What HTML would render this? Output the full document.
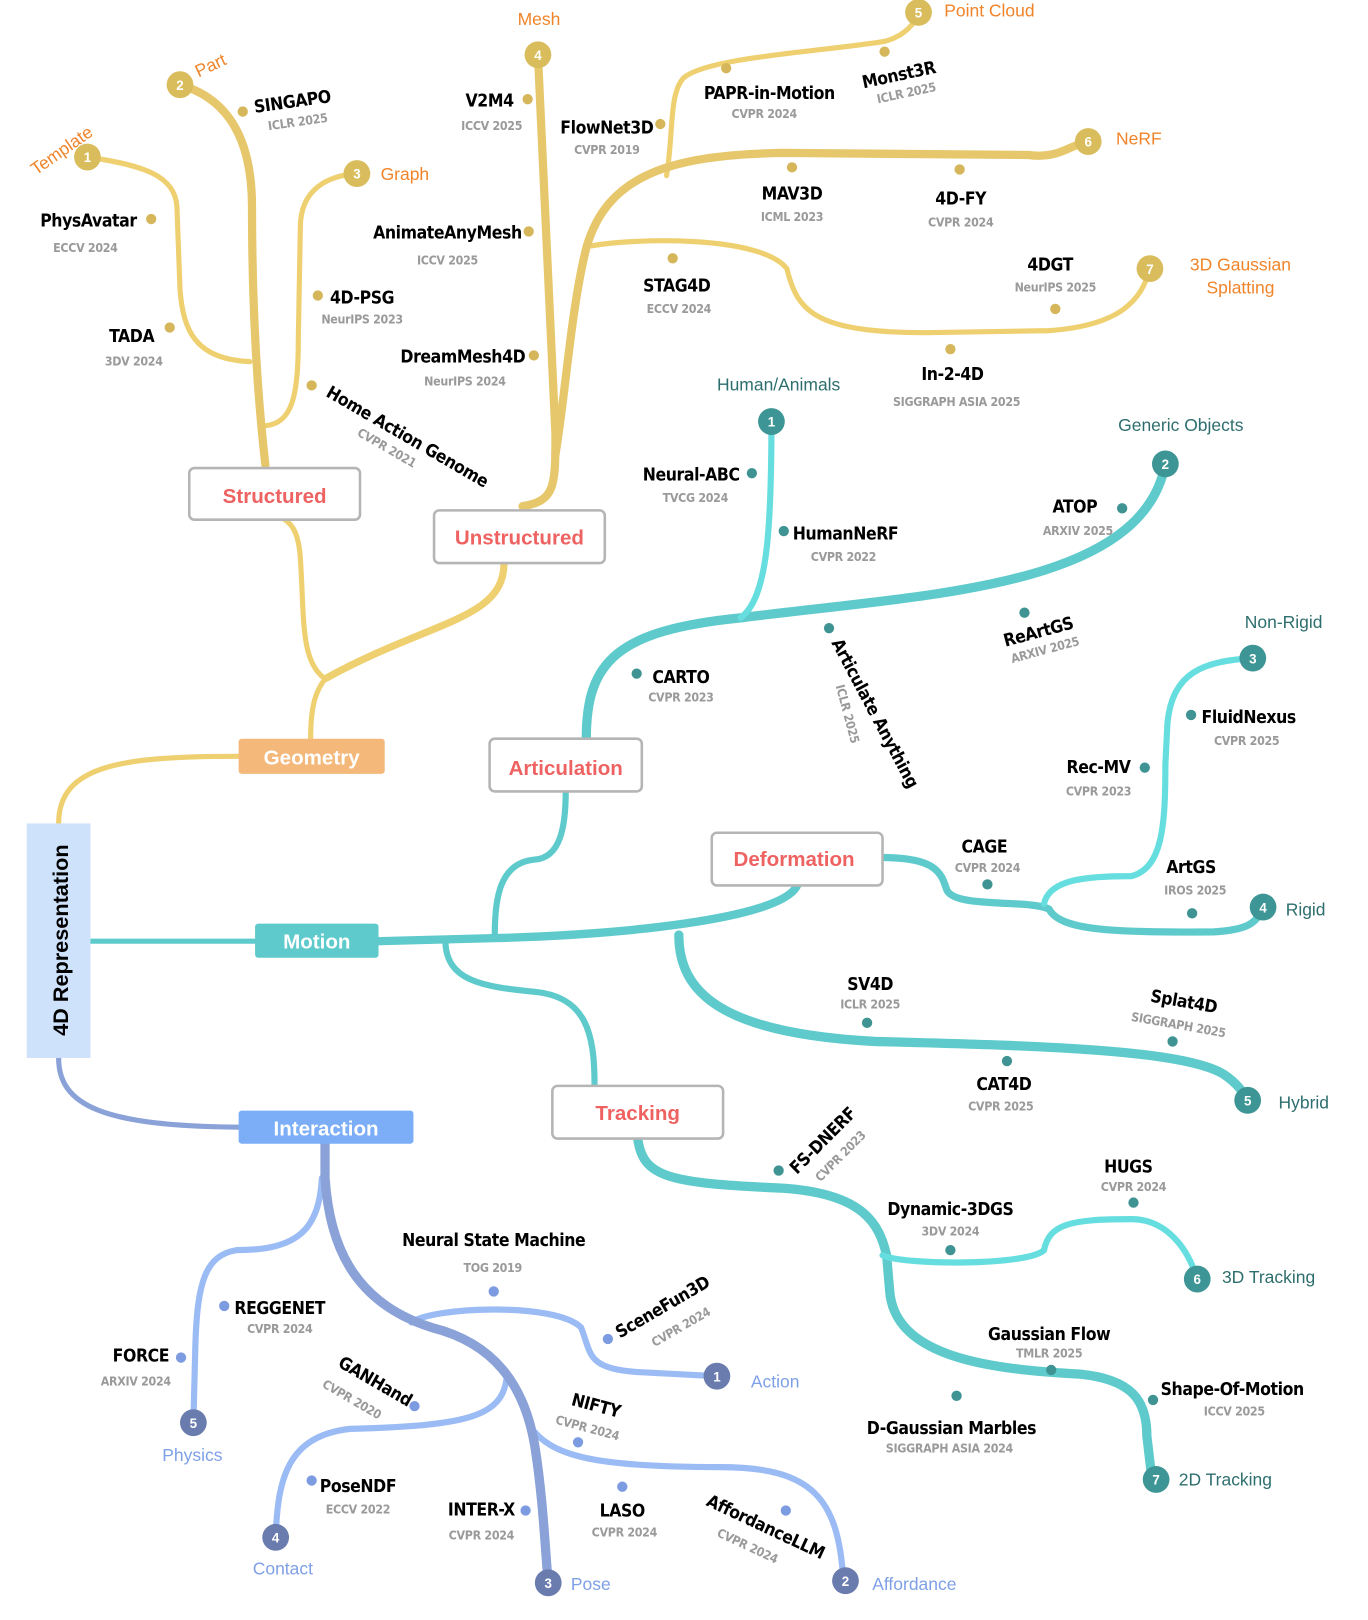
<!DOCTYPE html>
<html><head><meta charset="utf-8"><style>
html,body{margin:0;padding:0;background:#fff}
svg{display:block}
.t{font-family:"DejaVu Sans Condensed","Liberation Sans",sans-serif;font-weight:bold;font-size:17px;letter-spacing:-0.4px;fill:#000;text-anchor:middle}
.v{font-family:"DejaVu Sans Condensed","Liberation Sans",sans-serif;font-weight:bold;font-size:12px;letter-spacing:-0.3px;fill:#9a9a9a;text-anchor:middle}
.c{font-family:"Liberation Sans",sans-serif;font-size:17px}
.bn{font-family:"Liberation Sans",sans-serif;font-weight:bold;font-size:13px;fill:#fff;text-anchor:middle}
.box{font-family:"Liberation Sans",sans-serif;font-weight:bold;font-size:20px;text-anchor:middle}
path{fill:none;stroke-linecap:round}
</style></head><body>
<svg width="1368" height="1620" viewBox="0 0 1330 1568" preserveAspectRatio="none" xmlns="http://www.w3.org/2000/svg">
<g stroke="#EFD070" stroke-width="5">
<path d="M57,797 C57,740 120,732 232,732"/>
<path d="M302,715 C302,680 308,668 316,657 C292,640 296,600 292,540 C290,512 282,505 272,500"/>
<path d="M490,545 C490,600 420,600 316,657" stroke-width="7"/>
<path d="M243,350 C190,348 178,320 175,280 L172,200 C170,170 140,160 85,152"/>
<path d="M258,412 C285,410 290,380 290,330 L292,220 C292,182 320,170 347,168"/>
<path d="M648,170 C655,130 650,90 665,75 C690,55 800,50 860,40 C880,35 890,22 893,12"/>
<path d="M575,238 C620,230 740,228 765,260 C775,300 790,322 900,322 L1020,320 C1090,315 1110,290 1118,260"/>
</g>
<g stroke="#E7C76C" stroke-width="8">
<path d="M258,450 C250,380 245,300 245,200 C245,120 210,92 175,82"/>
<path d="M508,490 C540,485 540,470 540,420 L523,53"/>
<path d="M540,440 C550,380 555,300 570,240 C590,170 650,150 760,148 L1000,150 C1030,154 1040,140 1058,137"/>
</g>
<g stroke="#5ECACB" stroke-width="8">
<path d="M88,911 L248,911" stroke-width="5"/>
<path d="M368,911 L480,908 C600,905 760,890 775,857"/>
<path d="M481,908 C481,870 485,835 520,832 C545,830 550,800 550,766" stroke-width="6"/>
<path d="M570,715 C570,640 600,610 720,598 C900,575 1110,570 1133,449" stroke-width="9"/>
<path d="M858,830 C910,830 915,845 920,860 C925,880 1000,870 1020,880 C1030,900 1080,903 1180,902 C1210,900 1222,895 1228,878" stroke-width="7"/>
<path d="M660,905 C660,960 700,1000 850,1008 C1000,1012 1150,1015 1190,1040 C1205,1050 1210,1060 1213,1065" stroke-width="9"/>
<path d="M433,910 C433,950 470,955 520,960 C570,965 578,1000 578,1050" stroke-width="6"/>
<path d="M620,1102 C625,1140 650,1145 760,1150 C840,1155 855,1185 862,1215 L865,1250 C870,1310 950,1325 1050,1330 C1100,1335 1115,1355 1115,1390 L1120,1432" stroke-width="9"/>
</g>
<g stroke="#66DEDF" stroke-width="6">
<path d="M720,598 C745,580 750,520 750,410"/>
<path d="M1015,875 C1020,850 1060,848 1100,848 C1130,840 1133,800 1133,740 L1135,700 C1140,650 1170,640 1218,637"/>
<path d="M858,1215 C880,1225 1000,1225 1015,1210 C1020,1185 1040,1180 1100,1180 C1140,1180 1160,1220 1163,1238"/>
</g>
<g stroke="#9BBBF5" stroke-width="6">
<path d="M313,1140 C310,1190 290,1210 230,1210 C200,1215 192,1240 190,1300 L188,1377"/>
<path d="M400,1280 C420,1265 540,1260 565,1285 C575,1310 570,1325 620,1328 L697,1332"/>
<path d="M493,1330 C490,1370 460,1380 340,1383 C280,1390 270,1430 268,1488"/>
<path d="M515,1380 C535,1410 580,1420 700,1420 C790,1420 815,1450 820,1530"/>
</g>
<g stroke="#8AA2D8">
<path d="M57,1024 C57,1070 100,1090 232,1091" stroke-width="5"/>
<path d="M316,1107 L316,1140 C320,1200 340,1260 420,1285 C480,1300 510,1340 520,1400 C528,1450 530,1500 533,1532" stroke-width="9"/>
</g>

<rect x="26" y="797" width="62" height="227" fill="#CFE2FB"/>
<text transform="translate(66,910) rotate(-90)" font-family="Liberation Sans,sans-serif" font-weight="bold" font-size="21" text-anchor="middle">4D Representation</text>
<rect x="232" y="715" width="142" height="34" rx="3" fill="#F3B87A"/>
<text x="303" y="740" class="box" fill="#fff">Geometry</text>
<rect x="248" y="894" width="120" height="33" rx="3" fill="#5ECACB"/>
<text x="308" y="918" class="box" fill="#fff">Motion</text>
<rect x="232" y="1075" width="170" height="32" rx="3" fill="#7BAEF7"/>
<text x="317" y="1099" class="box" fill="#fff">Interaction</text>
<g fill="#fff" stroke="#b5b5b5" stroke-width="2.5">
<rect x="184" y="453" width="166" height="50" rx="5"/>
<rect x="422" y="494" width="166" height="51" rx="5"/>
<rect x="476" y="715" width="148" height="51" rx="5"/>
<rect x="692" y="806" width="166" height="51" rx="5"/>
<rect x="537" y="1051" width="166" height="51" rx="5"/>
</g>
<g class="box" fill="#EE6262">
<text x="267" y="487">Structured</text>
<text x="505" y="527">Unstructured</text>
<text x="550" y="750">Articulation</text>
<text x="772" y="838">Deformation</text>
<text x="620" y="1084">Tracking</text>
</g>

<g fill="#D9BD5C">
<circle cx="85" cy="152" r="13"/><circle cx="175" cy="82" r="13"/><circle cx="347" cy="168" r="13"/>
<circle cx="523" cy="53" r="13"/><circle cx="893" cy="12" r="13"/><circle cx="1058" cy="137" r="13"/><circle cx="1118" cy="260" r="13"/>
</g>
<g fill="#3E9595">
<circle cx="750" cy="408" r="13"/><circle cx="1133" cy="449" r="13"/><circle cx="1218" cy="637" r="13"/><circle cx="1228" cy="878" r="13"/>
<circle cx="1213" cy="1065" r="13"/><circle cx="1164" cy="1238" r="13"/><circle cx="1124" cy="1432" r="13"/>
</g>
<g fill="#6A7BAE">
<circle cx="697" cy="1332" r="13"/><circle cx="822" cy="1530" r="13"/><circle cx="533" cy="1532" r="13"/><circle cx="268" cy="1488" r="13"/><circle cx="188" cy="1377" r="13"/>
</g>
<g class="bn">
<text x="85" y="157">1</text><text x="175" y="87">2</text><text x="347" y="173">3</text><text x="523" y="58">4</text><text x="893" y="17">5</text><text x="1058" y="142">6</text><text x="1118" y="265">7</text>
<text x="750" y="413">1</text><text x="1133" y="454">2</text><text x="1218" y="642">3</text><text x="1228" y="883">4</text><text x="1213" y="1070">5</text><text x="1164" y="1243">6</text><text x="1124" y="1437">7</text>
<text x="697" y="1337">1</text><text x="822" y="1535">2</text><text x="533" y="1537">3</text><text x="268" y="1493">4</text><text x="188" y="1382">5</text>
</g>

<g class="c" fill="#F0842A">
<text transform="translate(35,170) rotate(-35)">Template</text>
<text transform="translate(193,75) rotate(-25)">Part</text>
<text x="370" y="174">Graph</text>
<text x="524" y="24" text-anchor="middle">Mesh</text>
<text x="918" y="16">Point Cloud</text>
<text x="1085" y="140">NeRF</text>
<text x="1206" y="262" text-anchor="middle">3D Gaussian</text>
<text x="1206" y="284" text-anchor="middle">Splatting</text>
</g>
<g class="c" fill="#2E6E6E">
<text x="757" y="378" text-anchor="middle">Human/Animals</text>
<text x="1148" y="417" text-anchor="middle">Generic Objects</text>
<text x="1248" y="608" text-anchor="middle">Non-Rigid</text>
<text x="1250" y="886">Rigid</text>
<text x="1243" y="1073">Hybrid</text>
<text x="1188" y="1242">3D Tracking</text>
<text x="1146" y="1438">2D Tracking</text>
</g>
<g class="c" fill="#7FA0E6">
<text x="730" y="1343">Action</text>
<text x="848" y="1539">Affordance</text>
<text x="555" y="1539">Pose</text>
<text x="275" y="1524" text-anchor="middle">Contact</text>
<text x="187" y="1414" text-anchor="middle">Physics</text>
</g>

<g fill="#D5B65A">
<circle cx="147" cy="212" r="5"/><circle cx="165" cy="317" r="5"/><circle cx="236" cy="108" r="5"/><circle cx="309" cy="286" r="5"/><circle cx="303" cy="373" r="5"/>
<circle cx="513" cy="96" r="5"/><circle cx="514" cy="224" r="5"/><circle cx="519" cy="344" r="5"/><circle cx="642" cy="120" r="5"/><circle cx="706" cy="66" r="5"/>
<circle cx="860" cy="50" r="5"/><circle cx="770" cy="162" r="5"/><circle cx="933" cy="164" r="5"/><circle cx="654" cy="250" r="5"/><circle cx="1026" cy="299" r="5"/><circle cx="924" cy="338" r="5"/>
</g>
<g fill="#3F9393">
<circle cx="731" cy="458" r="5"/><circle cx="762" cy="514" r="5"/><circle cx="1091" cy="492" r="5"/><circle cx="996" cy="593" r="5"/><circle cx="619" cy="652" r="5"/><circle cx="806" cy="608" r="5"/>
<circle cx="960" cy="856" r="5"/><circle cx="1158" cy="692" r="5"/><circle cx="1113" cy="743" r="5"/><circle cx="1159" cy="884" r="5"/><circle cx="843" cy="990" r="5"/><circle cx="979" cy="1027" r="5"/><circle cx="1140" cy="1008" r="5"/>
<circle cx="757" cy="1133" r="5"/><circle cx="924" cy="1210" r="5"/><circle cx="1102" cy="1164" r="5"/><circle cx="1022" cy="1326" r="5"/><circle cx="1121" cy="1355" r="5"/><circle cx="930" cy="1351" r="5"/>
</g>
<g fill="#7C9BE0">
<circle cx="480" cy="1250" r="5"/><circle cx="591" cy="1296" r="5"/><circle cx="218" cy="1264" r="5"/><circle cx="176" cy="1314" r="5"/><circle cx="403" cy="1361" r="5"/><circle cx="562" cy="1396" r="5"/>
<circle cx="303" cy="1433" r="5"/><circle cx="511" cy="1462" r="5"/><circle cx="605" cy="1439" r="5"/><circle cx="764" cy="1462" r="5"/>
</g>

<g class="t">
<text x="86" y="219">PhysAvatar</text><text x="128" y="331">TADA</text>
<text transform="translate(285,104) rotate(-8)">SINGAPO</text>
<text x="352" y="294">4D-PSG</text>
<text transform="translate(316,383) rotate(30)" text-anchor="start">Home Action Genome</text>
<text x="476" y="103">V2M4</text><text x="435" y="231">AnimateAnyMesh</text><text x="450" y="351">DreamMesh4D</text>
<text x="590" y="129">FlowNet3D</text><text x="748" y="96">PAPR-in-Motion</text>
<text transform="translate(875,78) rotate(-12)">Monst3R</text>
<text x="770" y="193">MAV3D</text><text x="934" y="198">4D-FY</text><text x="658" y="282">STAG4D</text>
<text x="1021" y="262">4DGT</text><text x="926" y="368">In-2-4D</text>
<text x="672" y="465">Neural-ABC</text><text x="822" y="522">HumanNeRF</text><text x="1045" y="496">ATOP</text>
<text transform="translate(1011,617) rotate(-15)">ReArtGS</text>
<text x="662" y="661">CARTO</text>
<text transform="translate(808,622) rotate(62)" text-anchor="start">Articulate Anything</text>
<text x="957" y="825">CAGE</text><text x="1214" y="700">FluidNexus</text><text x="1068" y="748">Rec-MV</text><text x="1158" y="845">ArtGS</text>
<text x="846" y="958">SV4D</text><text x="976" y="1055">CAT4D</text>
<text transform="translate(1150,975) rotate(10)">Splat4D</text>
<text transform="translate(804,1108) rotate(-45)">FS-DNERF</text>
<text x="924" y="1176">Dynamic-3DGS</text><text x="1097" y="1135">HUGS</text>
<text x="1020" y="1297">Gaussian Flow</text><text x="1198" y="1350">Shape-Of-Motion</text><text x="925" y="1388">D-Gaussian Marbles</text>
<text x="480" y="1206">Neural State Machine</text>
<text transform="translate(647,1270) rotate(-30)">SceneFun3D</text>
<text x="272" y="1272">REGGENET</text><text x="137" y="1318">FORCE</text>
<text transform="translate(362,1342) rotate(30)">GANHand</text>
<text transform="translate(578,1366) rotate(15)">NIFTY</text>
<text x="348" y="1444">PoseNDF</text><text x="468" y="1467">INTER-X</text><text x="605" y="1468">LASO</text>
<text transform="translate(742,1483) rotate(25)">AffordanceLLM</text>
</g>
<g class="v">
<text x="83" y="244">ECCV 2024</text><text x="130" y="354">3DV 2024</text>
<text transform="translate(290,122) rotate(-8)">ICLR 2025</text>
<text x="352" y="313">NeurIPS 2023</text>
<text transform="translate(374,437) rotate(30)">CVPR 2021</text>
<text x="478" y="126">ICCV 2025</text><text x="435" y="256">ICCV 2025</text><text x="452" y="373">NeurIPS 2024</text>
<text x="590" y="149">CVPR 2019</text><text x="743" y="114">CVPR 2024</text>
<text transform="translate(882,94) rotate(-12)">ICLR 2025</text>
<text x="770" y="214">ICML 2023</text><text x="934" y="219">CVPR 2024</text><text x="660" y="303">ECCV 2024</text>
<text x="1026" y="282">NeurIPS  2025</text><text x="930" y="393">SIGGRAPH ASIA  2025</text>
<text x="676" y="486">TVCG 2024</text><text x="820" y="543">CVPR 2022</text><text x="1048" y="518">ARXIV 2025</text>
<text transform="translate(1017,633) rotate(-15)">ARXIV 2025</text>
<text x="662" y="679">CVPR 2023</text>
<text transform="translate(820,692) rotate(75)">ICLR 2025</text>
<text x="960" y="844">CVPR 2024</text><text x="1212" y="721">CVPR 2025</text><text x="1068" y="770">CVPR 2023</text><text x="1162" y="866">IROS 2025</text>
<text x="846" y="976">ICLR 2025</text><text x="973" y="1075">CVPR 2025</text>
<text transform="translate(1145,996) rotate(10)">SIGGRAPH 2025</text>
<text transform="translate(820,1122) rotate(-45)">CVPR 2023</text>
<text x="924" y="1196">3DV 2024</text><text x="1102" y="1153">CVPR 2024</text>
<text x="1020" y="1314">TMLR 2025</text><text x="1200" y="1370">ICCV 2025</text><text x="923" y="1406">SIGGRAPH ASIA 2024</text>
<text x="479" y="1231">TOG 2019</text>
<text transform="translate(664,1288) rotate(-30)">CVPR 2024</text>
<text x="272" y="1290">CVPR 2024</text><text x="132" y="1341">ARXIV 2024</text>
<text transform="translate(340,1358) rotate(30)">CVPR 2020</text>
<text transform="translate(570,1386) rotate(15)">CVPR 2024</text>
<text x="348" y="1465">ECCV 2022</text><text x="468" y="1490">CVPR 2024</text><text x="607" y="1487">CVPR 2024</text>
<text transform="translate(725,1500) rotate(25)">CVPR 2024</text>
</g>
</svg>
</body></html>
